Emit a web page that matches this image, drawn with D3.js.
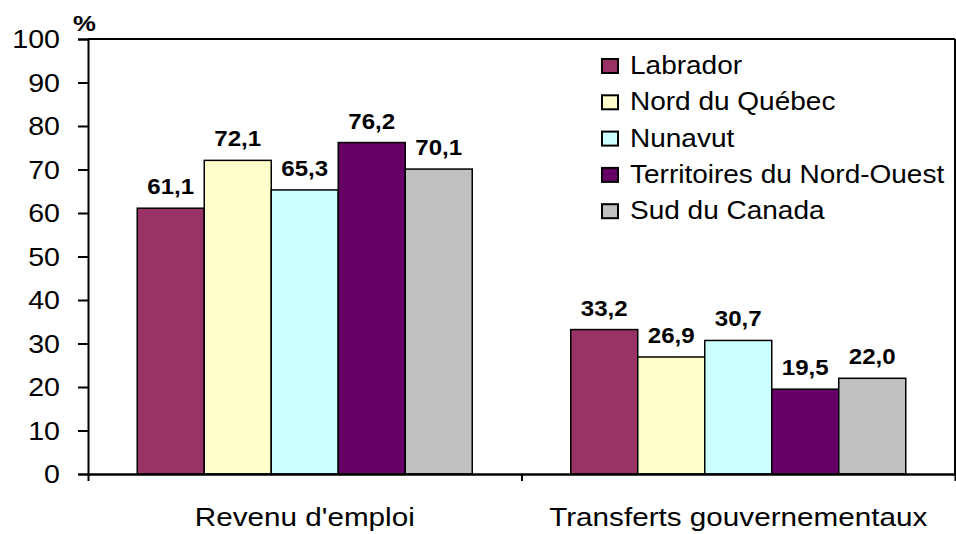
<!DOCTYPE html>
<html>
<head>
<meta charset="utf-8">
<script src="https://cdn.jsdelivr.net/npm/d3@7"></script>
<style>
  body { margin: 0; background: #fff; }
  text { font-family: Arial, "Liberation Sans", sans-serif; fill: #000; }
</style>
</head>
<body>
<div id="chart"></div>
<script>
    const categories = ["Revenu d'emploi", "Transferts gouvernementaux"];
    const series = ["Labrador", "Nord du Québec", "Nunavut", "Territoires du Nord-Ouest", "Sud du Canada"];
    const revenuEmploi = [61.1, 72.1, 65.3, 76.2, 70.1];
    const transferts = [33.2, 26.9, 30.7, 19.5, 22.0];
    const colors = ["#993366", "#FFFFCC", "#CCFFFF", "#660066", "#C0C0C0"];
    const yTicks = [0, 10, 20, 30, 40, 50, 60, 70, 80, 90, 100];

    const values = [revenuEmploi, transferts];
    const fmt = v => d3.format(".1f")(v).replace(".", ",");

    const W = 956, H = 534;
    const margin = { top: 39, right: 1, bottom: 60, left: 88 };
    const width = W - margin.left - margin.right;
    const height = H - margin.top - margin.bottom;
    const sx = 1.12; // text in the picture is a bit wider than normal

    const svg = d3.select("#chart")
        .append("svg")
        .attr("width", W)
        .attr("height", H);

    const g = svg.append("g")
        .attr("transform", `translate(${margin.left},${margin.top})`);

    const x0 = d3.scaleBand()
        .domain(categories)
        .range([0, width]);

    const x1 = d3.scaleBand()
        .domain(series)
        .range([0, x0.bandwidth()])
        .paddingOuter(0.735);

    const y = d3.scaleLinear()
        .domain([0, 100])
        .range([height, 0]);

    // stretched text helper
    function label(parent, x, yy, txt, size, anchor, bold) {
        return parent.append("text")
            .attr("transform", `translate(${x},${yy}) scale(${sx},1)`)
            .attr("text-anchor", anchor)
            .style("font-size", size + "px")
            .style("font-weight", bold ? "bold" : "normal")
            .text(txt);
    }

    // bars
    categories.forEach((c, ci) => {
        const grp = g.append("g").attr("transform", `translate(${x0(c)},0)`);
        grp.selectAll("rect")
            .data(values[ci])
            .enter().append("rect")
            .attr("x", (d, i) => x1(series[i]))
            .attr("y", d => y(d))
            .attr("width", x1.bandwidth())
            .attr("height", d => height - y(d))
            .attr("fill", (d, i) => colors[i])
            .attr("stroke", "#000")
            .attr("stroke-width", 1.5);
        values[ci].forEach((d, i) => {
            label(grp, x1(series[i]) + x1.bandwidth() / 2, y(d) - 14, fmt(d), 21.5, "middle", true);
        });
    });

    // frame top and right
    g.append("line").attr("x1", 0).attr("x2", width).attr("y1", 0).attr("y2", 0)
        .attr("stroke", "#000").attr("stroke-width", 2);
    g.append("line").attr("x1", width).attr("x2", width).attr("y1", 0).attr("y2", height)
        .attr("stroke", "#000").attr("stroke-width", 2);

    // y axis
    const yAxis = g.append("g")
        .call(d3.axisLeft(y).tickValues(yTicks).tickSize(10).tickFormat(""));
    yAxis.select(".domain").attr("stroke-width", 2);
    yAxis.selectAll(".tick line").attr("stroke-width", 2);
    yTicks.forEach(t => {
        label(g, -28, y(t) + 9, t, 25.5, "end", false);
    });
    label(g, -15, -8, "%", 23, "start", true);

    // x axis, ticks on the category boundaries
    const xb = d3.scaleLinear().domain([0, categories.length]).range([0, width]);
    const xAxis = g.append("g")
        .attr("transform", `translate(0,${height})`)
        .call(d3.axisBottom(xb).ticks(categories.length).tickSize(7).tickSizeOuter(0).tickFormat(""));
    xAxis.select(".domain").attr("stroke-width", 2.5);
    xAxis.selectAll(".tick line").attr("stroke-width", 2);
    categories.forEach(c => {
        label(g, x0(c) + x0.bandwidth() / 2, height + 52, c, 26.5, "middle", false);
    });

    // legend
    const legend = svg.append("g").attr("transform", "translate(602,57)");
    series.forEach((s, i) => {
        const row = legend.append("g").attr("transform", `translate(0,${i * 36.3})`);
        row.append("rect")
            .attr("x", 0).attr("y", 2)
            .attr("width", 16).attr("height", 14)
            .attr("fill", colors[i])
            .attr("stroke", "#000")
            .attr("stroke-width", 2);
        label(row, 28, 17, s, 25, "start", false);
    });
</script>
</body>
</html>
